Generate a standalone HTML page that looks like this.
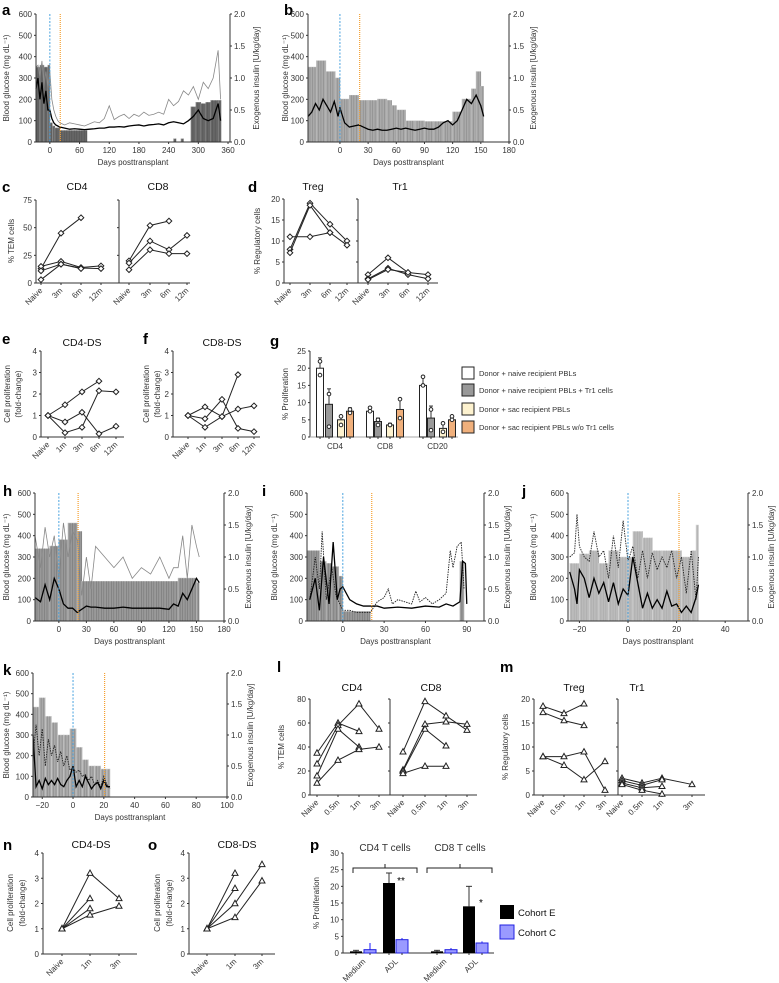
<!DOCTYPE html>
<html><head><meta charset="utf-8">
<style>
body{margin:0;background:#fff;}
svg{display:block;font-family:"Liberation Sans",sans-serif;}
</style></head>
<body>
<svg id="fig" width="779" height="983" viewBox="0 0 779 983"></svg>
<script>
// ---------- DATA ----------
// panel a
const aDays=[-28,-24,-20,-16,-12,-8,-4,0,4,8,12,16,20,30,40,50,60,70,80,90,100,110,120,130,140,150,160,170,180,190,200,210,220,230,240,250,260,270,280,290,300,310,320,330,340,345];
const aMean=[250,300,200,280,180,240,150,150,110,90,80,75,70,65,60,62,60,58,60,62,65,65,70,70,72,70,75,78,80,75,80,82,85,80,90,95,90,85,100,120,150,110,100,110,180,100];
const aMax=[350,360,300,380,260,330,250,330,200,150,120,100,90,80,90,85,80,75,85,95,90,110,170,105,120,130,110,130,120,140,125,130,140,130,200,170,190,240,220,260,200,280,250,300,430,200];
const aBarStart=[-28,-20,-12,-4,0,5,10,20,75,250,255,265,270,285,295,305,315,325,340,346];
const aBarVal=[1.17,1.2,1.17,1.2,0.3,0.25,0.22,0.18,0,0.05,0,0.05,0,0.55,0.62,0.6,0.62,0.65,0.65,0];
// panel b
const bDays=[-34,-30,-26,-22,-18,-14,-10,-6,-2,0,5,10,15,20,25,30,35,40,45,50,55,60,65,70,75,80,85,90,95,100,105,110,115,120,125,130,135,140,145,150,153];
const bMean=[120,140,180,150,200,170,140,190,120,160,90,70,75,80,70,60,55,60,55,55,60,65,60,65,60,55,60,65,60,60,70,90,100,80,100,150,200,180,220,170,120];
const bBarStart=[-34,-25,-15,-5,0,10,20,30,40,50,55,60,70,80,90,100,110,120,130,140,145,150,153];
const bBarVal=[1.17,1.27,1.1,1.0,0.67,0.73,0.65,0.65,0.67,0.65,0.57,0.5,0.33,0.33,0.32,0.32,0.32,0.47,0.67,0.83,1.1,0.87,0];
// panel h
const hDays=[-26,-20,-15,-10,-5,0,5,10,15,20,25,30,35,40,50,60,70,80,90,100,110,120,125,130,135,140,145,150,153];
const hMean=[110,90,170,100,200,150,80,60,60,40,55,70,65,65,60,60,65,60,60,60,60,55,80,70,130,100,150,200,180];
const hMax=[400,250,440,300,400,200,460,300,420,380,120,300,150,350,300,250,300,200,250,220,300,200,250,250,400,200,450,350,300];
const hBarStart=[-26,-10,0,10,20,25,130,150,153];
const hBarVal=[1.13,1.17,1.27,1.53,1.4,0.62,0.67,0.6,0];
// panel i
const iDays=[-24,-20,-17,-14,-10,-7,-4,-2,0,5,10,15,20,25,30,40,50,60,70,75,80,85,87,89,90];
const iMean=[100,200,50,300,80,370,100,150,160,100,80,70,70,70,60,65,60,70,65,80,70,90,280,270,80];
const iDotDays=[-24,-20,-17,-15,-12,-8,-5,0,5,10,20,25,30,33,36,40,45,50,53,56,60,65,70,75,78,80,83,86,88];
const iDot=[100,300,150,420,100,250,120,50,50,40,40,90,110,150,80,100,90,80,140,90,110,80,100,130,330,250,350,370,150];
const iBarStart=[-26,-17,-12,-8,-3,0,20,85,88];
const iBarVal=[1.1,0.93,0.9,0.85,0.7,0.15,0,0.93,0];
// panel j
const jDays=[-24,-22,-21,-20,-18,-16,-14,-12,-10,-8,-6,-4,-2,0,2,4,6,8,10,12,14,16,18,20,22,24,26,28,29];
const jMean=[230,150,80,240,200,110,200,130,180,90,180,80,150,120,300,180,60,130,60,100,60,140,70,80,40,70,40,110,170];
const jDot=[300,320,500,350,300,280,420,300,330,200,400,250,470,280,350,200,330,200,320,240,300,250,330,200,300,130,330,100,300];
const jBarStart=[-24,-20,-16,-12,-8,-4,0,2,6,10,14,18,22,26,28,29];
const jBarVal=[0.9,1.05,1.1,0.9,1.1,1.0,1.0,1.4,1.3,1.1,1.1,1.1,1.0,1.1,1.5,0];
// panel k
const kDays=[-26,-24,-22,-20,-18,-16,-14,-12,-10,-8,-6,-4,-2,0,2,4,6,8,10,12,14,16,18,20,22,24];
const kMean=[300,50,80,40,90,60,80,60,90,60,50,80,100,150,50,80,50,100,70,40,60,70,40,80,50,50];
const kDot=[200,350,200,330,150,280,200,250,170,220,150,200,130,140,120,130,100,110,80,100,60,80,50,100,60,40];
const kBarStart=[-26,-22,-18,-14,-10,-6,-2,2,6,10,14,18,22,24];
const kBarVal=[1.45,1.6,1.3,1.2,1.0,1.0,1.1,0.8,0.6,0.5,0.5,0.45,0.45,0];
// panel c/d
const cdCats=["Naive","3m","6m","12m"];
const cCD4=[[13,45,59],[15,19.5,14,15.5],[11,17,13.5,13],[3,17,13]];
const cCD8=[[20,52,56],[18,38,30,43],[12,30,26.5,26.5]];
const dTreg=[[8,19,14,10],[7.2,18.5,12,9],[11,11,12]];
const dTr1=[[2,6,2.5,2],[1,3.5,2,1],[0.8,3.2,2.5]];
// e/f
const efCats=["Naive","1m","3m","6m","12m"];
const eSeries=[[1,1.5,2.1,2.6],[1,0.7,1.15,0.15,0.5],[1,0.2,0.45,2.15,2.1]];
const fSeries=[[1,1.4,0.95,1.3,1.45],[1,0.85,1.75,0.4,0.25],[1,0.45,0.95,2.9]];
// g
const gGroups=["CD4","CD8","CD20"];
const gMeans=[[20,9.5,5,7.5],[7.5,4.5,3.5,8],[15,5.5,2.5,5]];
const gErr=[[23,14,6,8.5],[8.5,5.5,4,11],[17.5,9,4,6]];
const gPts=[[[22,18],[12.5,3],[6,3.5],[7,8]],[[8.5,7.5],[5,3.5],[3.5,3.5],[11,5.5]],[[17.5,15],[8,2],[4,1.5],[6,5]]];
const gLegend=["Donor + naive recipient PBLs","Donor + naive recipient PBLs + Tr1 cells","Donor + sac recipient PBLs","Donor + sac recipient PBLs w/o Tr1 cells"];
// l/m
const lmCats=["Naive","0.5m","1m","3m"];
const lCD4=[[35,60,53],[26,58,76,55],[16,55,40],[10,29,38,40]];
const lCD8=[[36,78,66,54],[21,59,61,59],[20,55,41],[18,24,24]];
const mTreg=[[18.5,17,19],[17.2,15.5,14.5],[8,8,9,1],[8,6.2,3.2,7]];
const mTr1=[[3.5,2.5,3.5,2.2],[3,2,3.2],[2.5,1.5,1.8],[2.2,1,0.2]];
// n/o
const noCats=["Naive","1m","3m"];
const nSeries=[[1,3.2,2.2],[1,2.2],[1,1.8],[1,1.55,1.9]];
const oSeries=[[1,3.2],[1,2.6],[1,2,3.55],[1,1.45,2.9]];
// p
const pCats=["Medium","ADL","Medium","ADL"];
const pE=[0.5,21,0.5,14];
const pC=[1,4,1,3];
const pEErr=[0.8,24,0.8,20];
const pCErr=[3,4.5,1.5,3.5];

// ---------- HELPERS ----------
const NS="http://www.w3.org/2000/svg";
const svg=document.getElementById('fig');
function mk(tag,attrs,name,parent){
  const el=document.createElementNS(NS,tag);
  for(const k in attrs) el.setAttribute(k,attrs[k]);
  
  
  (parent||svg).appendChild(el);
  return el;
}
function txt(x,y,s,name,o){
  o=o||{};
  const a={x:x,y:y,'font-size':o.fs||8,fill:o.fill||'#333','text-anchor':o.anchor||'middle'};
  if(o.bold)a['font-weight']='bold';
  if(o.rot!==undefined)a.transform='rotate('+o.rot+' '+x+' '+y+')';
  const t=mk('text',a,name);
  t.textContent=s;
  return t;
}
function ln(x1,y1,x2,y2,name,o){
  o=o||{};
  const a={x1:x1,y1:y1,x2:x2,y2:y2,stroke:o.stroke||'#333','stroke-width':o.w||1};
  if(o.dash)a['stroke-dasharray']=o.dash;
  return mk('line',a,name);
}
function letter(x,y,s){txt(x,y,s,'panel-label-'+s,{fs:15,bold:true,anchor:'start',fill:'#000'});}

// glucose panel
function glucose(c){
  const sx=d=>c.x0+(d-c.dmin)/(c.dmax-c.dmin)*(c.x1-c.x0);
  const sy=v=>c.yb-v/600*(c.yb-c.yt);
  const si=v=>c.yb-v/2*(c.yb-c.yt);
  for(let i=0;i<c.bs.length-1;i++){
    if(c.bv[i]<=0)continue;
    const x=sx(c.bs[i]),w=sx(c.bs[i+1])-x;
    mk('rect',{x:x,y:si(c.bv[i]),width:Math.max(w,0.5),height:c.yb-si(c.bv[i]),fill:c.barFill,stroke:c.barStroke,'stroke-width':0.6},'insulin-bar');
    for(let xx=x+2;xx<x+w;xx+=2.5) ln(xx,si(c.bv[i]),xx,c.yb,'insulin-bar-stripe',{stroke:c.stripe,w:0.6});
  }
  if(c.max){
    mk('polyline',{points:c.days.map((d,i)=>sx(d)+','+sy(c.max[i])).join(' '),fill:'none',stroke:'#888','stroke-width':0.8},'glucose-max-line');
  }
  if(c.dot){
    mk('polyline',{points:c.dotDays.map((d,i)=>sx(d)+','+sy(c.dot[i])).join(' '),fill:'none',stroke:'#222','stroke-width':0.9,'stroke-dasharray':'1.5,1'},'glucose-dotted-line');
  }
  mk('polyline',{points:c.days.map((d,i)=>sx(d)+','+sy(c.mean[i])).join(' '),fill:'none',stroke:'#000','stroke-width':1.3},'glucose-mean-line');
  ln(sx(0),c.yt,sx(0),c.yb,'transplant-marker',{stroke:'#4aa3df',dash:'2,1.5'});
  ln(sx(c.orange),c.yt,sx(c.orange),c.yb,'orange-marker',{stroke:'#f5a030',dash:'1,1',w:1.2});
  ln(c.x0,c.yt,c.x0,c.yb,'left-y-axis');
  ln(c.x1,c.yt,c.x1,c.yb,'right-y-axis');
  ln(c.x0,c.yb,c.x1,c.yb,'x-axis');
  [0,100,200,300,400,500,600].forEach(v=>{ln(c.x0-2,sy(v),c.x0,sy(v),'y-tick');txt(c.x0-4,sy(v)+3,v,'y-tick-label',{anchor:'end'});});
  ['0.0','0.5','1.0','1.5','2.0'].forEach(v=>{ln(c.x1,si(+v),c.x1+2,si(+v),'y2-tick');txt(c.x1+4,si(+v)+3,v,'y2-tick-label',{anchor:'start'});});
  c.xt.forEach(v=>{ln(sx(v),c.yb,sx(v),c.yb+2,'x-tick');txt(sx(v),c.yb+11,v<0?'\u2212'+(-v):v,'x-tick-label');});
  txt((c.x0+c.x1)/2,c.yb+23,'Days posttransplant','x-axis-title');
  const my=(c.yt+c.yb)/2;
  txt(c.lt,my,'Blood glucose (mg dL\u207B\u00B9)','y-axis-title',{rot:-90});
  txt(c.rt,my,'Exogenous insulin [U/kg/day]','y2-axis-title',{rot:-90});
}

function marker(x,y,type,name){
  if(type==='d') mk('polygon',{points:[x,y-2.8,x+2.8,y,x,y+2.8,x-2.8,y].join(','),fill:'#fff',stroke:'#222','stroke-width':1},name);
  else mk('polygon',{points:[x,y-3.2,x+3,y+2.2,x-3,y+2.2].join(','),fill:'#fff',stroke:'#222','stroke-width':1},name);
}
function linePanel(c){
  const sy=v=>c.yb-v/c.ymax*(c.yb-c.yt);
  ln(c.ax,c.yt,c.ax,c.yb,'y-axis');
  ln(c.ax,c.yb,c.xend,c.yb,'x-axis');
  if(c.ticks) c.ticks.forEach(v=>{ln(c.ax-2,sy(v),c.ax,sy(v),'y-tick'); if(c.labels) txt(c.ax-4,sy(v)+3,v,'y-tick-label',{anchor:'end'});});
  c.xs.forEach((x,i)=>{ln(x,c.yb,x,c.yb+2,'x-tick');txt(x+2,c.yb+8,c.cats[i],'x-tick-label',{anchor:'end',rot:-45});});
  c.series.forEach(s=>{
    mk('polyline',{points:s.map((v,i)=>c.xs[i]+','+sy(v)).join(' '),fill:'none',stroke:'#222','stroke-width':1},'series-line');
    s.forEach((v,i)=>marker(c.xs[i],sy(v),c.mk,'data-point'));
  });
  if(c.title) txt(c.tx,c.ty,c.title,'subplot-title',{fs:10.5,fill:'#111'});
}

// ---------- PANELS a,b ----------
letter(2,15,'a');
glucose({x0:36,x1:230,yt:14,yb:142,dmin:-28,dmax:364,days:aDays,mean:aMean,max:aMax,bs:aBarStart,bv:aBarVal,barFill:'#666',barStroke:'#999',stripe:'#555',orange:21,xt:[0,60,120,180,240,300,360],lt:9,rt:259});
letter(284,15,'b');
glucose({x0:308,x1:509,yt:14,yb:142,dmin:-34,dmax:180,days:bDays,mean:bMean,bs:bBarStart,bv:bBarVal,barFill:'#aaa',barStroke:'#bbb',stripe:'#888',orange:21,xt:[0,30,60,90,120,150,180],lt:288,rt:536});

// ---------- c ----------
letter(2,192,'c');
txt(14,241,'% TEM cells','y-axis-title',{rot:-90});
linePanel({ax:36,xend:118,yt:200,yb:283,ymax:75,ticks:[0,25,50,75],labels:true,xs:[41,61,81,101],cats:cdCats,series:cCD4,mk:'d',title:'CD4',tx:77,ty:190});
linePanel({ax:119,xend:190,yt:200,yb:283,ymax:75,ticks:[0,25,50,75],labels:false,xs:[129,150,169,187],cats:cdCats,series:cCD8,mk:'d',title:'CD8',tx:158,ty:190});
// ---------- d ----------
letter(248,192,'d');
txt(260,241,'% Regulatory cells','y-axis-title',{rot:-90});
linePanel({ax:284,xend:357,yt:199,yb:283,ymax:20,ticks:[0,5,10,15,20],labels:true,xs:[290,310,330,347],cats:cdCats,series:dTreg,mk:'d',title:'Treg',tx:313,ty:190});
linePanel({ax:358,xend:438,yt:199,yb:283,ymax:20,ticks:[0,5,10,15,20],labels:false,xs:[368,388,408,428],cats:cdCats,series:dTr1,mk:'d',title:'Tr1',tx:400,ty:190});

// ---------- e,f ----------
letter(2,344,'e');
txt(10,394,'Cell proliferation','y-axis-title',{rot:-90});
txt(21,394,'(fold-change)','y-axis-title-2',{rot:-90});
linePanel({ax:41,xend:124,yt:351,yb:437,ymax:4,ticks:[0,1,2,3,4],labels:true,xs:[48,65,82,99,116],cats:efCats,series:eSeries,mk:'d',title:'CD4-DS',tx:82,ty:346});
letter(143,344,'f');
txt(149,394,'Cell proliferation','y-axis-title',{rot:-90});
txt(160,394,'(fold-change)','y-axis-title-2',{rot:-90});
linePanel({ax:173,xend:260,yt:351,yb:437,ymax:4,ticks:[0,1,2,3,4],labels:true,xs:[188,205,222,238,254],cats:efCats,series:fSeries,mk:'d',title:'CD8-DS',tx:222,ty:346});

// ---------- g ----------
letter(270,346,'g');
(function(){
  const yt=351,yb=437,ax=310,sy=v=>yb-v/25*(yb-yt);
  const gx=[[320,329,341,350],[370,378,390,400],[423,431,443,452]];
  const fills=['#fff','#999','#fdf2cf','#f0b07c'];
  txt(288,394,'% Proliferation','y-axis-title',{rot:-90});
  ln(ax,yt,ax,yb,'y-axis');ln(ax,yb,458,yb,'x-axis',{stroke:'#aaa'});
  [0,5,10,15,20,25].forEach(v=>{ln(ax-2,sy(v),ax,sy(v),'y-tick');txt(ax-4,sy(v)+3,v,'y-tick-label',{anchor:'end'});});
  gGroups.forEach((g,gi)=>{
    txt((gx[gi][0]+gx[gi][3])/2,yb+12,g,'group-label');
    gMeans[gi].forEach((m,bi)=>{
      const x=gx[gi][bi];
      ln(x,sy(m),x,sy(gErr[gi][bi]),'error-bar');
      ln(x-2,sy(gErr[gi][bi]),x+2,sy(gErr[gi][bi]),'error-cap');
      mk('rect',{x:x-3.5,y:sy(m),width:7,height:yb-sy(m),fill:fills[bi],stroke:'#222','stroke-width':1},'bar-'+g+'-'+bi);
      ln(x,yb,x,yb+2,'x-tick');
      gPts[gi][bi].forEach(v=>mk('circle',{cx:x,cy:sy(v),r:1.8,fill:'#fff',stroke:'#222','stroke-width':1},'data-point'));
    });
  });
  gLegend.forEach((s,i)=>{
    const y=367+i*(i<2?17:18);
    mk('rect',{x:462,y:y,width:12,height:12,fill:fills[i],stroke:'#222','stroke-width':1},'legend-swatch');
    txt(479,y+9,s,'legend-entry',{anchor:'start',fs:7.5});
  });
})();

// ---------- h,i,j ----------
letter(3,496,'h');
glucose({x0:35,x1:224,yt:493,yb:621,dmin:-26,dmax:180,days:hDays,mean:hMean,max:hMax,bs:hBarStart,bv:hBarVal,barFill:'#999',barStroke:'#bbb',stripe:'#777',orange:21,xt:[0,30,60,90,120,150,180],lt:9,rt:251});
letter(262,496,'i');
glucose({x0:307,x1:484,yt:493,yb:621,dmin:-26,dmax:102.5,days:iDays,mean:iMean,dot:iDot,dotDays:iDotDays,bs:iBarStart,bv:iBarVal,barFill:'#999',barStroke:'#bbb',stripe:'#777',orange:21,xt:[0,30,60,90],lt:277,rt:510});
letter(522,496,'j');
glucose({x0:568,x1:748,yt:493,yb:621,dmin:-24.7,dmax:49.4,days:jDays,mean:jMean,dot:jDot,dotDays:jDays,bs:jBarStart,bv:jBarVal,barFill:'#bbb',barStroke:'#ddd',stripe:'#aaa',orange:21,xt:[-20,0,20,40],lt:536,rt:774});

// ---------- k ----------
letter(3,675,'k');
glucose({x0:33,x1:227,yt:673,yb:797,dmin:-26,dmax:100,days:kDays,mean:kMean,dot:kDot,dotDays:kDays,bs:kBarStart,bv:kBarVal,barFill:'#aaa',barStroke:'#ccc',stripe:'#888',orange:20.5,xt:[-20,0,20,40,60,80,100],lt:9,rt:253});

// ---------- l ----------
letter(277,672,'l');
txt(284,747,'% TEM cells','y-axis-title',{rot:-90});
linePanel({ax:310,xend:389,yt:699,yb:795,ymax:80,ticks:[0,20,40,60,80],labels:true,xs:[317,338,359,379],cats:lmCats,series:lCD4,mk:'t',title:'CD4',tx:352,ty:691});
linePanel({ax:390,xend:477,yt:699,yb:795,ymax:80,ticks:[0,20,40,60,80],labels:false,xs:[403,425,446,467],cats:lmCats,series:lCD8,mk:'t',title:'CD8',tx:431,ty:691});
// ---------- m ----------
letter(500,672,'m');
txt(508,747,'% Regulatory cells','y-axis-title',{rot:-90});
linePanel({ax:534,xend:617,yt:699,yb:795,ymax:20,ticks:[0,5,10,15,20],labels:true,xs:[543,564,584,605],cats:lmCats,series:mTreg,mk:'t',title:'Treg',tx:574,ty:691});
linePanel({ax:618,xend:705,yt:699,yb:795,ymax:20,ticks:[0,5,10,15,20],labels:false,xs:[622,642,662,692],cats:lmCats,series:mTr1,mk:'t',title:'Tr1',tx:637,ty:691});

// ---------- n,o ----------
letter(3,850,'n');
txt(13,903,'Cell proliferation','y-axis-title',{rot:-90});
txt(25,903,'(fold-change)','y-axis-title-2',{rot:-90});
linePanel({ax:43,xend:137,yt:853,yb:954,ymax:4,ticks:[0,1,2,3,4],labels:true,xs:[62,90,119],cats:noCats,series:nSeries,mk:'t',title:'CD4-DS',tx:91,ty:848});
letter(148,850,'o');
txt(160,903,'Cell proliferation','y-axis-title',{rot:-90});
txt(172,903,'(fold-change)','y-axis-title-2',{rot:-90});
linePanel({ax:189,xend:275,yt:853,yb:954,ymax:4,ticks:[0,1,2,3,4],labels:true,xs:[207,235,262],cats:noCats,series:oSeries,mk:'t',title:'CD8-DS',tx:237,ty:848});

// ---------- p ----------
letter(310,850,'p');
(function(){
  const yt=853,yb=953,ax=343,sy=v=>yb-v/30*(yb-yt);
  const ex=[356,389,437,469],cx=[370,402,451,482];
  txt(319,903,'% Proliferation','y-axis-title',{rot:-90});
  ln(ax,yt,ax,yb,'y-axis');ln(ax,yb,494,yb,'x-axis');
  [0,5,10,15,20,25,30].forEach(v=>{ln(ax-2,sy(v),ax,sy(v),'y-tick');txt(ax-4,sy(v)+3,v,'y-tick-label',{anchor:'end'});});
  pCats.forEach((c,i)=>{
    ln(ex[i],sy(pE[i]),ex[i],sy(pEErr[i]),'error-bar');
    ln(ex[i]-3,sy(pEErr[i]),ex[i]+3,sy(pEErr[i]),'error-cap');
    mk('rect',{x:ex[i]-6,y:sy(pE[i]),width:12,height:yb-sy(pE[i]),fill:'#000'},'bar-cohort-e-'+i);
    ln(cx[i],sy(pC[i]),cx[i],sy(pCErr[i]),'error-bar',{stroke:'#1a1aff'});
    mk('rect',{x:cx[i]-6,y:sy(pC[i]),width:12,height:yb-sy(pC[i]),fill:'#9a9aff',stroke:'#2020e0','stroke-width':1},'bar-cohort-c-'+i);
    const mx=(ex[i]+cx[i])/2;
    ln(ex[i],yb,ex[i],yb+2,'x-tick');ln(cx[i],yb,cx[i],yb+2,'x-tick');
    txt(mx+3,yb+9,c,'x-tick-label',{anchor:'end',rot:-45});
  });
  [[353,417,385,'CD4 T cells'],[427,492,460,'CD8 T cells']].forEach(b=>{
    mk('path',{d:'M'+b[0]+',873 v-5 h'+(b[2]-b[0])+' v-4 v4 h'+(b[1]-b[2])+' v5',fill:'none',stroke:'#222','stroke-width':1},'bracket');
    txt(b[2],851,b[3],'group-title',{fs:10});
  });
  txt(401,884,'**','significance-marker',{fs:10,fill:'#000'});
  txt(481,906,'*','significance-marker',{fs:10,fill:'#000'});
  mk('rect',{x:500,y:905,width:14,height:14,fill:'#000'},'legend-swatch-cohort-e');
  txt(518,916,'Cohort E','legend-entry',{anchor:'start',fs:9.5,fill:'#111'});
  mk('rect',{x:500,y:925,width:14,height:14,fill:'#9a9aff',stroke:'#2020e0','stroke-width':1},'legend-swatch-cohort-c');
  txt(518,936,'Cohort C','legend-entry',{anchor:'start',fs:9.5,fill:'#111'});
})();
</script>
</body></html>
